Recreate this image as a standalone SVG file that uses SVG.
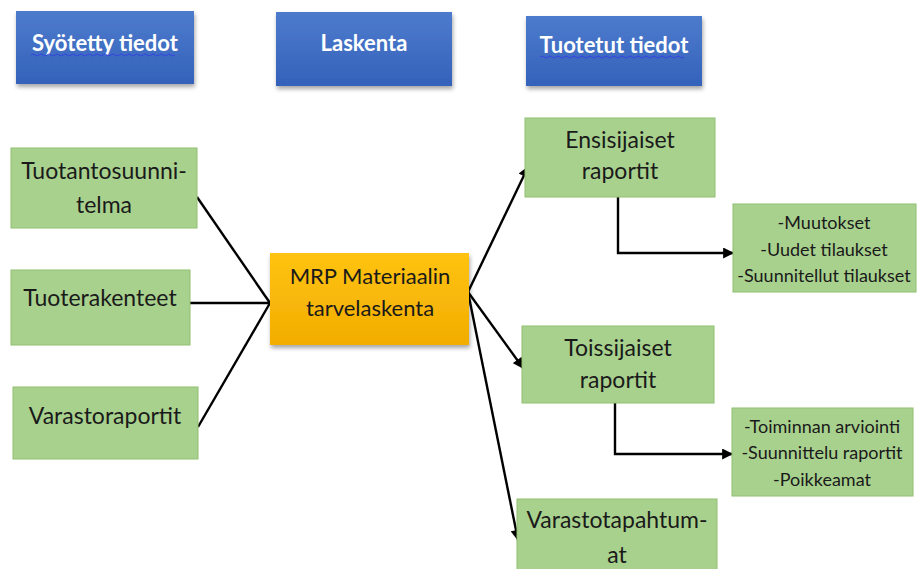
<svg xmlns="http://www.w3.org/2000/svg" width="917" height="569" viewBox="0 0 917 569">
  <defs>
    <linearGradient id="blueFill" x1="0" y1="0" x2="0" y2="1">
      <stop offset="0" stop-color="#4d7bcc"/>
      <stop offset="1" stop-color="#3462bb"/>
    </linearGradient>
    <linearGradient id="goldFill" x1="0" y1="0" x2="0" y2="1">
      <stop offset="0" stop-color="#ffc312"/>
      <stop offset="1" stop-color="#f2ad00"/>
    </linearGradient>
    <filter id="shadow" x="-10%" y="-10%" width="125%" height="135%">
      <feDropShadow dx="1" dy="3" stdDeviation="2" flood-color="#000" flood-opacity="0.35"/>
    </filter>
    <marker id="arrow" viewBox="0 0 10 10" refX="9" refY="5" markerWidth="12" markerHeight="11" markerUnits="userSpaceOnUse" orient="auto">
      <path d="M0,0 L10,5 L0,10 z" fill="#000"/>
    </marker>
  </defs>
  <style>
    .head rect { fill: url(#blueFill); filter: url(#shadow); }
    .head text { font-family: Lato, "Open Sans", sans-serif; font-weight: bold; font-size: 22px; fill: #fff; text-anchor: middle; }
    .squiggle { fill: none; stroke: #3344dd; stroke-width: 1; }
    .box rect { fill: #a9d18e; stroke: #8fbf70; stroke-width: 1; }
    .box text { font-family: Lato, "Open Sans", sans-serif; font-size: 23px; fill: #1a1a1a; text-anchor: middle; }
    .list text { font-size: 18px; }
    .core rect { fill: url(#goldFill); filter: url(#shadow); }
    .core text { font-family: Lato, "Open Sans", sans-serif; font-size: 22px; fill: #1a1a1a; text-anchor: middle; }
    .links path { fill: none; stroke: #000; stroke-width: 2.4; }
    .links .arr { marker-end: url(#arrow); }
  </style>

  <rect width="917" height="569" fill="#fff"/>

  <!-- column headers -->
  <g id="hdr-input" class="head">
    <rect x="16" y="11" width="178" height="73"/>
    <text x="105" y="51">Syötetty tiedot</text>
    <path class="squiggle" d="M31,55 q2,-2 4,0 t4,0 t4,0 t4,0 t4,0 t4,0 t4,0 t4,0 t4,0 t4,0 t4,0 t4,0 t4,0 t4,0 t4,0 t4,0 t4,0 t4,0 t4,0 t4,0 t4,0 t4,0 t4,0 t4,0 t4,0 t4,0 t4,0 t4,0 t4,0 t4,0 t4,0 t4,0 t4,0 t4,0 t4,0 t4,0"/>
  </g>
  <g id="hdr-calc" class="head">
    <rect x="276" y="12" width="176" height="74"/>
    <text x="364" y="51">Laskenta</text>
  </g>
  <g id="hdr-output" class="head">
    <rect x="526" y="16" width="176" height="70"/>
    <text x="614" y="53">Tuotetut tiedot</text>
    <path class="squiggle" d="M540,57 q2,-2 4,0 t4,0 t4,0 t4,0 t4,0 t4,0 t4,0 t4,0 t4,0 t4,0 t4,0 t4,0 t4,0 t4,0 t4,0 t4,0 t4,0 t4,0 t4,0 t4,0 t4,0 t4,0 t4,0 t4,0 t4,0 t4,0 t4,0 t4,0 t4,0 t4,0 t4,0 t4,0 t4,0 t4,0 t4,0 t4,0"/>
  </g>

  <!-- connectors -->
  <g id="connectors" class="links">
    <path d="M197,197 L270,303"/>
    <path d="M188,303 L270,303"/>
    <path d="M198,427 L270,303"/>
    <path class="arr" d="M468,292 L528,167"/>
    <path class="arr" d="M468,292 L523,368"/>
    <path class="arr" d="M468,292 L518,540"/>
    <path class="arr" d="M618,197 L618,253 L733,253"/>
    <path class="arr" d="M615,403 L615,454 L732,454"/>
  </g>

  <!-- inputs -->
  <g id="n-plan" class="box">
    <rect x="11" y="148" width="186" height="80"/>
    <text x="104" y="179">Tuotantosuunni-</text>
    <text x="104" y="213">telma</text>
  </g>
  <g id="n-structure" class="box">
    <rect x="11" y="270" width="179" height="75"/>
    <text x="100" y="306">Tuoterakenteet</text>
  </g>
  <g id="n-stock" class="box">
    <rect x="13" y="387" width="185" height="72"/>
    <text x="105" y="424">Varastoraportit</text>
  </g>

  <!-- calculation -->
  <g id="n-mrp" class="core">
    <rect x="270" y="253" width="199" height="92"/>
    <text x="370" y="284">MRP Materiaalin</text>
    <text x="370" y="316">tarvelaskenta</text>
  </g>

  <!-- outputs -->
  <g id="n-primary" class="box">
    <rect x="525" y="118" width="190" height="79"/>
    <text x="620" y="148">Ensisijaiset</text>
    <text x="620" y="179">raportit</text>
  </g>
  <g id="n-primary-list" class="box list">
    <rect x="733" y="204" width="183" height="88"/>
    <text x="824" y="229">-Muutokset</text>
    <text x="824" y="256">-Uudet tilaukset</text>
    <text x="824" y="282">-Suunnitellut tilaukset</text>
  </g>
  <g id="n-secondary" class="box">
    <rect x="522" y="326" width="192" height="77"/>
    <text x="618" y="356">Toissijaiset</text>
    <text x="618" y="388">raportit</text>
  </g>
  <g id="n-secondary-list" class="box list">
    <rect x="732" y="408" width="181" height="88"/>
    <text x="822" y="433">-Toiminnan arviointi</text>
    <text x="822" y="459">-Suunnittelu raportit</text>
    <text x="822" y="486">-Poikkeamat</text>
  </g>
  <g id="n-transactions" class="box">
    <rect x="517" y="499" width="200" height="75"/>
    <text x="617" y="528">Varastotapahtum-</text>
    <text x="617" y="563">at</text>
  </g>
</svg>
